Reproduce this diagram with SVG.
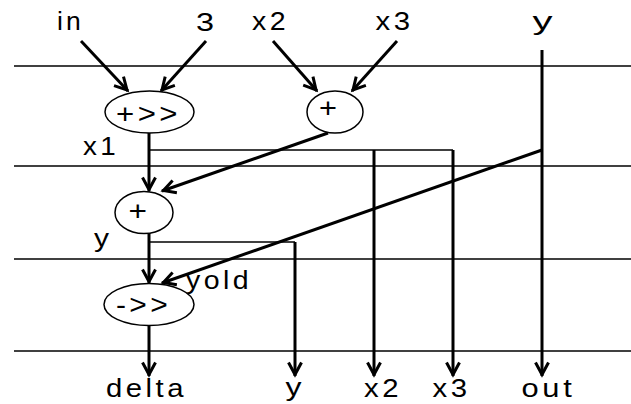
<svg xmlns="http://www.w3.org/2000/svg" width="631" height="404" viewBox="0 0 631 404">
<style>
.rule{stroke:#000;stroke-width:1.5;fill:none}
.thin{stroke:#000;stroke-width:1.5;fill:none}
.thick{stroke:#000;stroke-width:3;fill:none}
.arr{marker-end:url(#ah)}
.node ellipse{fill:#fff;stroke:#000;stroke-width:1.5}
text{font-family:"Liberation Sans",Arial,sans-serif;font-size:25px;fill:#000}
.node text{font-size:27px}
.ls{letter-spacing:3px}
</style>
<defs>
<marker id="ah" markerUnits="userSpaceOnUse" viewBox="-16 -10 20 20" markerWidth="20" markerHeight="20" refX="1.5" refY="0" orient="auto" overflow="visible">
<path d="M-12,-6.5 L0,0 L-12,6.5" fill="none" stroke="#000" stroke-width="3"/>
</marker>
</defs>
<rect width="631" height="404" fill="#fff"/>
<g id="rules">
<line class="rule" x1="14" y1="66" x2="631" y2="66"/>
<line class="rule" x1="14" y1="166" x2="631" y2="166"/>
<line class="rule" x1="14" y1="259" x2="631" y2="259"/>
<line class="rule" x1="14" y1="351" x2="631" y2="351"/>
</g>
<g id="connectors">
<line class="thick arr" x1="81" y1="41" x2="128" y2="91"/>
<line class="thick arr" x1="206" y1="41" x2="161" y2="91"/>
<line class="thick arr" x1="273" y1="41" x2="317" y2="91"/>
<line class="thick arr" x1="397" y1="41" x2="352" y2="91"/>
<line class="thick arr" x1="149" y1="133" x2="149" y2="191"/>
<line class="thick arr" x1="328" y1="133" x2="162" y2="191"/>
<line class="thin" x1="149" y1="150" x2="453" y2="150"/>
<line class="thick arr" x1="374" y1="150" x2="374" y2="376"/>
<line class="thick arr" x1="453" y1="150" x2="453" y2="376"/>
<line class="thick arr" x1="149" y1="233" x2="149" y2="283"/>
<line class="thin" x1="149" y1="242" x2="295" y2="242"/>
<line class="thick arr" x1="295" y1="242" x2="295" y2="376"/>
<line class="thick arr" x1="542" y1="50" x2="542" y2="376"/>
<line class="thick arr" x1="542" y1="150" x2="162" y2="283"/>
<line class="thick arr" x1="149" y1="326" x2="149" y2="376"/>
</g>
<g id="node-shr" class="node">
<ellipse cx="149.5" cy="112" rx="44.5" ry="21"/>
<text class="ls" x="116" y="123" textLength="65" lengthAdjust="spacingAndGlyphs">+&gt;&gt;</text>
</g>
<g id="node-add1" class="node">
<ellipse cx="335" cy="112" rx="28" ry="21"/>
<text x="319" y="117" textLength="18" lengthAdjust="spacingAndGlyphs">+</text>
</g>
<g id="node-add2" class="node">
<ellipse cx="144" cy="212.5" rx="29" ry="21"/>
<text x="128.5" y="219.5" textLength="18.5" lengthAdjust="spacingAndGlyphs">+</text>
</g>
<g id="node-sub" class="node">
<ellipse cx="149" cy="304.5" rx="45" ry="21"/>
<text class="ls" x="116" y="314" textLength="55" lengthAdjust="spacingAndGlyphs">-&gt;&gt;</text>
</g>
<g id="labels">
<text class="ls" x="57" y="30" textLength="27" lengthAdjust="spacingAndGlyphs">in</text>
<text x="196" y="30.5" textLength="18" lengthAdjust="spacingAndGlyphs">3</text>
<text class="ls" x="252" y="30" textLength="37" lengthAdjust="spacingAndGlyphs">x2</text>
<text class="ls" x="375.5" y="30" textLength="38" lengthAdjust="spacingAndGlyphs">x3</text>
<text x="532.5" y="30" textLength="20" lengthAdjust="spacingAndGlyphs">y</text>
<text class="ls" x="83" y="155" textLength="36" lengthAdjust="spacingAndGlyphs">x1</text>
<text x="94" y="247" textLength="15" lengthAdjust="spacingAndGlyphs">y</text>
<text class="ls" x="186" y="289" textLength="66" lengthAdjust="spacingAndGlyphs">yold</text>
<text class="ls" x="106" y="397" textLength="81" lengthAdjust="spacingAndGlyphs">delta</text>
<text x="285.5" y="396" textLength="16" lengthAdjust="spacingAndGlyphs">y</text>
<text class="ls" x="364" y="396.5" textLength="38" lengthAdjust="spacingAndGlyphs">x2</text>
<text class="ls" x="432.5" y="396.5" textLength="38" lengthAdjust="spacingAndGlyphs">x3</text>
<text class="ls" x="521.5" y="396.5" textLength="54" lengthAdjust="spacingAndGlyphs">out</text>
</g>
</svg>
